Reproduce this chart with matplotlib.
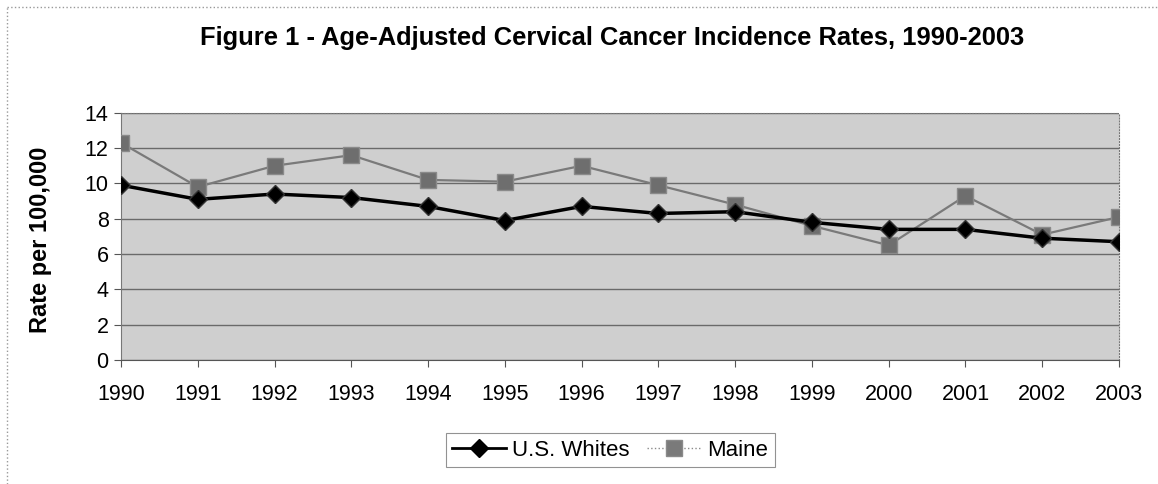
import matplotlib.pyplot as plt
from matplotlib.lines import Line2D

plt.rcParams['font.family'] = ['Liberation Sans', 'DejaVu Sans']

years = ['1990', '1991', '1992', '1993', '1994', '1995', '1996',
         '1997', '1998', '1999', '2000', '2001', '2002', '2003']
us_whites = [9.9, 9.1, 9.4, 9.2, 8.7, 7.9, 8.7, 8.3, 8.4, 7.8, 7.4, 7.4, 6.9, 6.7]
maine = [12.3, 9.8, 11.0, 11.6, 10.2, 10.1, 11.0, 9.9, 8.8, 7.6, 6.5, 9.3, 7.1, 8.1]

fig = plt.figure(figsize=(11.58, 4.84), dpi=100)
ax = fig.add_axes([0.1045, 0.256, 0.8618, 0.511])

x = range(len(years))
ax.set_facecolor('#cfcfcf')
ax.plot(x, maine, color='#7a7a7a', lw=1.6, marker='s', ms=11,
        mfc='#6e6e6e', mec='#8a8a8a', label='Maine', zorder=3)
ax.plot(x, us_whites, color='black', lw=2.5, marker='D', ms=9,
        mfc='black', mec='#333333', label='U.S. Whites', zorder=4)

ax.set_xlim(0, len(years) - 1)
ax.set_ylim(0, 14)
ax.set_yticks(range(0, 15, 2))
ax.set_xticks(list(x))
ax.set_xticklabels(years)
ax.grid(axis='y', color='#6a6a6a', lw=1)
ax.set_axisbelow(True)
ax.tick_params(labelsize=15.5, length=5, color='#555555', pad=12)
ax.tick_params(axis='y', pad=4)
for s in ax.spines.values():
    s.set_color('#777777')
    s.set_linestyle(':')
ax.spines['left'].set_linestyle('-')
ax.spines['bottom'].set_linestyle('-')
ax.spines['bottom'].set_color('#555555')

ax.set_ylabel('Rate per 100,000', fontsize=17, fontweight='bold')
ax.yaxis.set_label_coords(52 / 1158, (484 - 240) / 484, transform=fig.transFigure)

fig.text(612 / 1158, 0.921, 'Figure 1 - Age-Adjusted Cervical Cancer Incidence Rates, 1990-2003',
         ha='center', va='center', fontsize=18.4, fontweight='bold')

handles = [Line2D([], [], color='black', lw=2, marker='D', ms=9, mfc='black'),
           Line2D([], [], color='#8a8a8a', lw=1, ls=':', marker='s', ms=11, mfc='#7a7a7a', mec='#8a8a8a')]
leg = fig.legend(handles, ['U.S. Whites', 'Maine'], loc='center', bbox_to_anchor=(0.527, 0.07),
                 ncol=2, fontsize=16, frameon=True, fancybox=False, handlelength=2.4,
                 handletextpad=0.3, columnspacing=0.8, borderpad=0.3)
leg.get_frame().set_edgecolor('#777777')
leg.get_frame().set_linewidth(0.8)

# chart area border (only top and left show in the original)
fig.add_artist(Line2D([0.006, 1], [0.986, 0.986], color='#999999', lw=1, ls=':'))
fig.add_artist(Line2D([0.006, 0.006], [0, 0.986], color='#999999', lw=1, ls=':'))

fig.savefig('out.png', dpi=100)
